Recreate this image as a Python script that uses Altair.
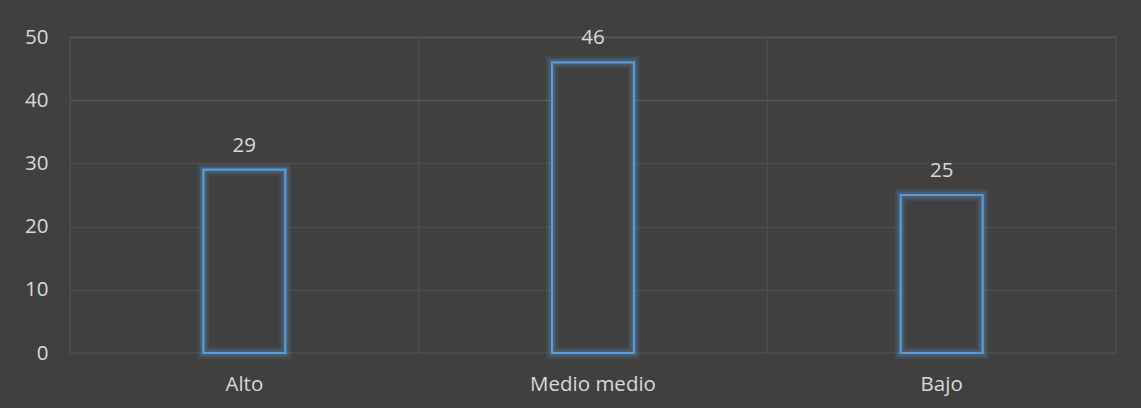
import altair as alt
import pandas as pd

categories = ["Alto", "Medio medio", "Bajo"]
values = [29, 46, 25]
y_ticks = [0, 10, 20, 30, 40, 50]

df = pd.DataFrame({"cat": categories, "val": values})

BG = "#404040"
BLUE = "#5B9BD5"
TXT = "#d9d9d9"
FONT = "Open Sans"
FS = 20.5

x_enc = alt.X(
    "cat:N",
    sort=categories,
    title=None,
    scale=alt.Scale(paddingInner=0, paddingOuter=0),
    axis=alt.Axis(
        labelAngle=0,
        labelFontSize=FS,
        labelColor=TXT,
        labelFont=FONT,
        labelPadding=21,
        ticks=False,
        domain=False,
        grid=True,
        bandPosition=0,
        gridColor="#4c4c4c",
        gridWidth=1.5,
    ),
)
y_enc = alt.Y(
    "val:Q",
    title=None,
    scale=alt.Scale(domain=[0, 50]),
    axis=alt.Axis(
        values=y_ticks,
        labelFontSize=FS,
        labelColor=TXT,
        labelFont=FONT,
        labelPadding=22,
        ticks=False,
        domain=False,
        gridColor={
            "condition": {"test": "datum.value >= 40", "value": "#575757"},
            "value": "#4d4d4d",
        },
        gridOpacity={
            "condition": {"test": "datum.value == 0", "value": 0},
            "value": 1,
        },
        gridWidth=1.5,
    ),
)

base = alt.Chart(df).encode(x=x_enc, y=y_enc)

bw = alt.RelativeBandSize(0.235)

glow1 = base.mark_bar(
    width=bw, fill=BG, stroke=BLUE, strokeWidth=12, strokeOpacity=0.12
)
glow2 = base.mark_bar(
    width=bw, fill="transparent", stroke=BLUE, strokeWidth=7, strokeOpacity=0.22
)
bar = base.mark_bar(
    width=bw, fill="transparent", stroke=BLUE, strokeWidth=2.2, strokeOpacity=1
)
labels = base.mark_text(
    dy=-24, fontSize=FS, color=TXT, font=FONT
).encode(text="val:Q")

chart = (
    alt.layer(glow1, glow2, bar, labels)
    .properties(
        width=1046,
        height=316,
        background=BG,
        padding={"left": 70, "top": 37, "right": 25, "bottom": 55},
        autosize=alt.AutoSizeParams(type="none"),
    )
    .configure_view(stroke="#4c4c4c", strokeWidth=1.5)
)

chart.save("out.html", embed_options={"renderer": "svg", "actions": False})
